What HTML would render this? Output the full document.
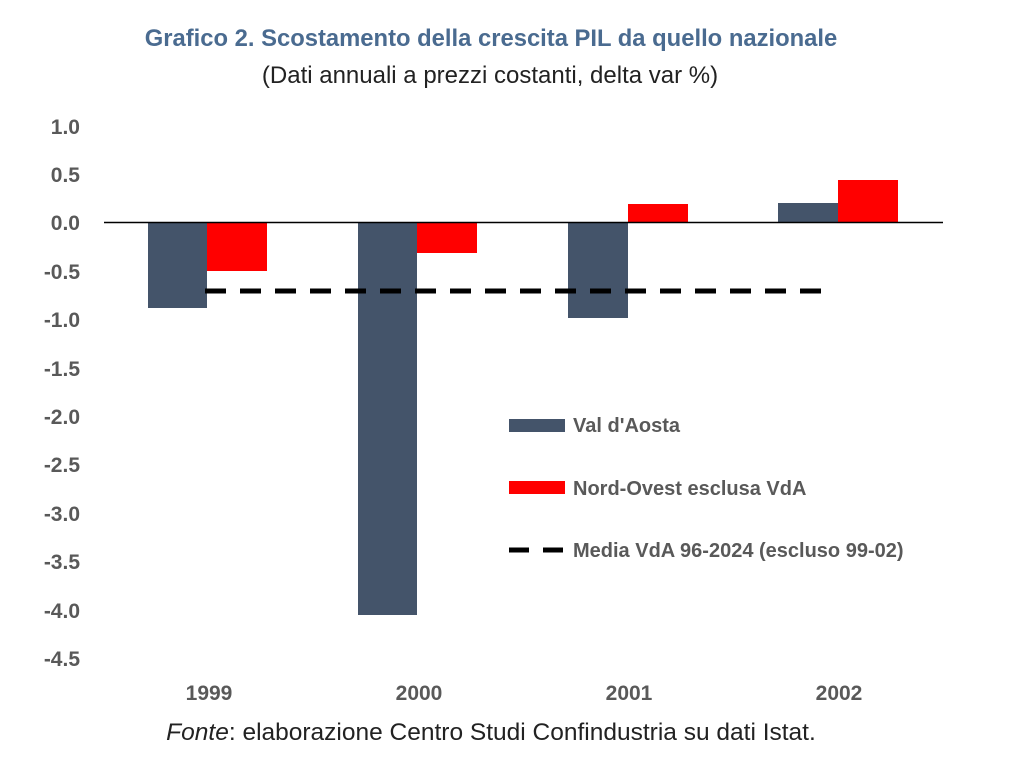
<!DOCTYPE html>
<html><head><meta charset="utf-8"><style>
body{margin:0;background:#fff;}
svg{display:block;}
</style></head><body>
<svg width="1012" height="772" xmlns="http://www.w3.org/2000/svg" font-family="Liberation Sans, sans-serif">
<rect width="1012" height="772" fill="#fff"/>
<text x="491" y="46" text-anchor="middle" font-size="23.8" font-weight="bold" fill="#4a6b90">Grafico 2. Scostamento della crescita PIL da quello nazionale</text>
<text x="490" y="83" text-anchor="middle" font-size="24" fill="#222">(Dati annuali a prezzi costanti, delta var %)</text>
<g font-size="21" font-weight="bold" fill="#595959" text-anchor="end">
<text x="80" y="134">1.0</text>
<text x="80" y="182">0.5</text>
<text x="80" y="230">0.0</text>
<text x="80" y="279">-0.5</text>
<text x="80" y="327">-1.0</text>
<text x="80" y="376">-1.5</text>
<text x="80" y="424">-2.0</text>
<text x="80" y="472">-2.5</text>
<text x="80" y="521">-3.0</text>
<text x="80" y="569">-3.5</text>
<text x="80" y="618">-4.0</text>
<text x="80" y="666">-4.5</text>
</g>
<g fill="#44546a">
<rect x="148" y="223" width="59" height="85"/>
<rect x="358" y="223" width="59" height="392"/>
<rect x="568" y="223" width="60" height="95"/>
<rect x="778" y="203" width="60" height="20"/>
</g>
<g fill="#ff0000">
<rect x="207" y="223" width="60" height="48"/>
<rect x="417" y="223" width="60" height="30"/>
<rect x="628" y="204" width="60" height="19"/>
<rect x="838" y="180" width="60" height="43"/>
</g>
<line x1="104" y1="222.5" x2="943" y2="222.5" stroke="#000" stroke-width="1.5"/>
<line x1="205" y1="291" x2="832" y2="291" stroke="#000" stroke-width="5" stroke-dasharray="21 14"/>
<g font-size="21" font-weight="bold" fill="#595959" text-anchor="middle">
<text x="209" y="700">1999</text>
<text x="419" y="700">2000</text>
<text x="629" y="700">2001</text>
<text x="839" y="700">2002</text>
</g>
<rect x="509" y="419" width="56" height="13" fill="#44546a"/>
<rect x="509" y="481" width="56" height="13" fill="#ff0000"/>
<line x1="509" y1="550" x2="566" y2="550" stroke="#000" stroke-width="5" stroke-dasharray="20 14"/>
<g font-size="20" font-weight="bold" fill="#595959">
<text x="573" y="432">Val d'Aosta</text>
<text x="573" y="495">Nord-Ovest esclusa VdA</text>
<text x="573" y="557">Media VdA 96-2024 (escluso 99-02)</text>
</g>
<text x="491" y="740" text-anchor="middle" font-size="24.5" fill="#222"><tspan font-style="italic">Fonte</tspan>: elaborazione Centro Studi Confindustria su dati Istat.</text>
</svg>
</body></html>
